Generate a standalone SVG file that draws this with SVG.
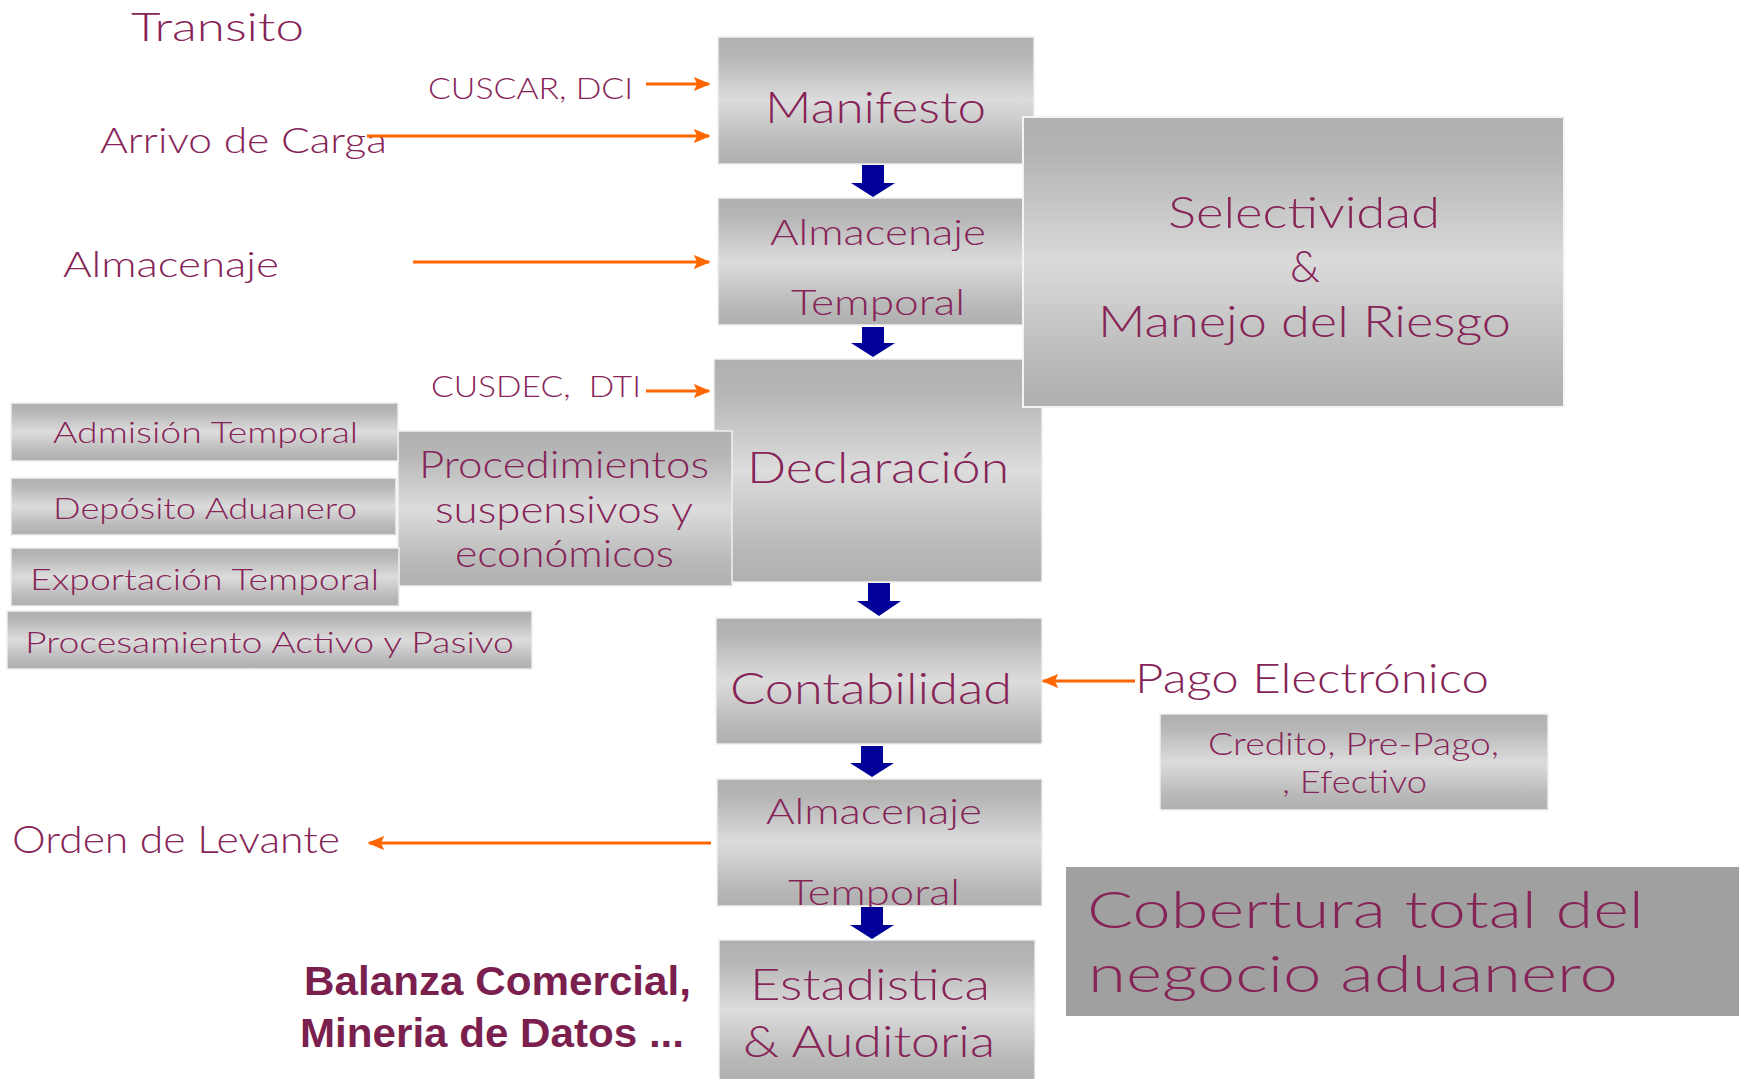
<svg xmlns="http://www.w3.org/2000/svg" width="1741" height="1079" viewBox="0 0 1741 1079">
<style>
.t{font-family:Lato,"Open Sans","Liberation Sans",sans-serif;font-weight:300;fill:#862457}
.b{font-family:"Liberation Sans",Arial,sans-serif;font-weight:bold;fill:#7a1f4e}
.box{fill:url(#g);stroke:#efefef;stroke-width:1.5}
.big{fill:url(#g2);stroke:#f4f4f4;stroke-width:2}
.or{stroke:#ff6600;stroke-width:3;fill:none;marker-end:url(#oh)}
.bl{fill:#000099}
</style>
<defs>
<linearGradient id="g" x1="0" y1="0" x2="0" y2="1">
<stop offset="0" stop-color="#b0b0b0"/>
<stop offset="0.15" stop-color="#b6b6b6"/>
<stop offset="0.5" stop-color="#dcdcdc"/>
<stop offset="0.85" stop-color="#b8b8b8"/>
<stop offset="1" stop-color="#b0b0b0"/>
</linearGradient>
<linearGradient id="g2" x1="0" y1="0" x2="0" y2="1">
<stop offset="0" stop-color="#b0b0b0"/>
<stop offset="0.12" stop-color="#b3b3b3"/>
<stop offset="0.5" stop-color="#dadada"/>
<stop offset="0.88" stop-color="#b6b6b6"/>
<stop offset="1" stop-color="#b0b0b0"/>
</linearGradient>
<marker id="oh" viewBox="0 0 10 10" refX="9" refY="5" markerWidth="17" markerHeight="14" markerUnits="userSpaceOnUse" orient="auto" preserveAspectRatio="none">
<path d="M0,0 L10,5 L0,10 L2,5 z" fill="#ff6600"/>
</marker>
</defs>
<rect width="1741" height="1079" fill="#ffffff"/>

<g id="labels">
<text class="t" x="131" y="41" font-size="40" textLength="173" lengthAdjust="spacingAndGlyphs">Transito</text>
<text class="t" x="428" y="99" font-size="30" textLength="205" lengthAdjust="spacingAndGlyphs">CUSCAR, DCI</text>
<text class="t" x="100" y="153" font-size="35" textLength="287" lengthAdjust="spacingAndGlyphs">Arrivo de Carga</text>
<text class="t" x="63" y="277" font-size="36" textLength="216" lengthAdjust="spacingAndGlyphs">Almacenaje</text>
<text class="t" x="431" y="397" font-size="30" textLength="210" lengthAdjust="spacingAndGlyphs" xml:space="preserve">CUSDEC,  DTI</text>
<text class="t" x="12" y="853" font-size="37" textLength="328" lengthAdjust="spacingAndGlyphs">Orden de Levante</text>
<text class="t" x="1135" y="693" font-size="41" textLength="354" lengthAdjust="spacingAndGlyphs">Pago Electrónico</text>
<text class="b" x="304" y="995" font-size="40" textLength="387" lengthAdjust="spacingAndGlyphs">Balanza Comercial,</text>
<text class="b" x="300" y="1047" font-size="40" textLength="384" lengthAdjust="spacingAndGlyphs">Mineria de Datos ...</text>
</g>

<g id="manifesto">
<rect class="box" x="718" y="37" width="316" height="127"/>
<text class="t" x="765" y="123" font-size="44" textLength="221" lengthAdjust="spacingAndGlyphs">Manifesto</text>
</g>
<g id="almacenaje1">
<rect class="box" x="718" y="198" width="305" height="127"/>
<text class="t" x="770" y="245" font-size="36" textLength="216" lengthAdjust="spacingAndGlyphs">Almacenaje</text>
<text class="t" x="791" y="315" font-size="36" textLength="174" lengthAdjust="spacingAndGlyphs">Temporal</text>
</g>
<g id="declaracion">
<rect class="box" x="714" y="359" width="328" height="223"/>
<text class="t" x="747" y="483" font-size="44" textLength="262" lengthAdjust="spacingAndGlyphs">Declaración</text>
</g>
<g id="selectividad">
<rect class="big" x="1023" y="117" width="541" height="290"/>
<text class="t" x="1168" y="228" font-size="44" textLength="272" lengthAdjust="spacingAndGlyphs">Selectividad</text>
<text class="t" x="1290" y="282" font-size="44" textLength="30" lengthAdjust="spacingAndGlyphs">&amp;</text>
<text class="t" x="1098" y="337" font-size="44" textLength="413" lengthAdjust="spacingAndGlyphs">Manejo del Riesgo</text>
</g>
<g id="procedimientos">
<rect class="box" x="398" y="431" width="334" height="155"/>
<text class="t" x="419" y="478" font-size="37" textLength="290" lengthAdjust="spacingAndGlyphs">Procedimientos</text>
<text class="t" x="435" y="523" font-size="37" textLength="258" lengthAdjust="spacingAndGlyphs">suspensivos y</text>
<text class="t" x="455" y="567" font-size="37" textLength="219" lengthAdjust="spacingAndGlyphs">económicos</text>
</g>
<g id="admision">
<rect class="box" x="11" y="403" width="387" height="58"/>
<text class="t" x="53" y="443" font-size="30" textLength="305" lengthAdjust="spacingAndGlyphs">Admisión Temporal</text>
</g>
<g id="deposito">
<rect class="box" x="11" y="478" width="385" height="57"/>
<text class="t" x="53" y="519" font-size="30" textLength="304" lengthAdjust="spacingAndGlyphs">Depósito Aduanero</text>
</g>
<g id="exportacion">
<rect class="box" x="11" y="548" width="388" height="58"/>
<text class="t" x="30" y="590" font-size="30" textLength="349" lengthAdjust="spacingAndGlyphs">Exportación Temporal</text>
</g>
<g id="procesamiento">
<rect class="box" x="7" y="611" width="525" height="58"/>
<text class="t" x="25" y="653" font-size="30" textLength="489" lengthAdjust="spacingAndGlyphs">Procesamiento Activo y Pasivo</text>
</g>
<g id="contabilidad">
<rect class="box" x="716" y="618" width="326" height="126"/>
<text class="t" x="730" y="704" font-size="44" textLength="282" lengthAdjust="spacingAndGlyphs">Contabilidad</text>
</g>
<g id="credito">
<rect class="box" x="1160" y="714" width="388" height="96"/>
<text class="t" x="1208" y="755" font-size="32" textLength="291" lengthAdjust="spacingAndGlyphs">Credito, Pre-Pago,</text>
<text class="t" x="1282" y="793" font-size="32" textLength="145" lengthAdjust="spacingAndGlyphs">, Efectivo</text>
</g>
<g id="almacenaje2">
<rect class="box" x="717" y="779" width="325" height="127"/>
<text class="t" x="766" y="824" font-size="36" textLength="216" lengthAdjust="spacingAndGlyphs">Almacenaje</text>
<text class="t" x="788" y="905" font-size="36" textLength="172" lengthAdjust="spacingAndGlyphs">Temporal</text>
</g>
<g id="estadistica">
<rect class="box" x="719" y="940" width="316" height="141"/>
<text class="t" x="750" y="1000" font-size="44" textLength="240" lengthAdjust="spacingAndGlyphs">Estadistica</text>
<text class="t" x="743" y="1057" font-size="44" textLength="252" lengthAdjust="spacingAndGlyphs">&amp; Auditoria</text>
</g>
<g id="cobertura">
<rect x="1066" y="867" width="673" height="149" fill="#a0a0a0"/>
<text class="t" x="1087" y="928" font-size="51" textLength="557" lengthAdjust="spacingAndGlyphs">Cobertura total del</text>
<text class="t" x="1088" y="992" font-size="51" textLength="530" lengthAdjust="spacingAndGlyphs">negocio aduanero</text>
</g>

<g id="connectors">
<line class="or" x1="646" y1="84" x2="709" y2="84"/>
<line class="or" x1="367" y1="136" x2="709" y2="136"/>
<line class="or" x1="413" y1="262" x2="709" y2="262"/>
<line class="or" x1="646" y1="391" x2="709" y2="391"/>
<line class="or" x1="1135" y1="681" x2="1043" y2="681"/>
<line class="or" x1="711" y1="843" x2="369" y2="843"/>
<polygon class="bl" points="862,165 884,165 884,183 895,183 873,197 851,183 862,183"/>
<polygon class="bl" points="862,327 884,327 884,343 895,343 873,357 851,343 862,343"/>
<polygon class="bl" points="868,583 890,583 890,601 901,601 879,616 857,601 868,601"/>
<polygon class="bl" points="861,746 883,746 883,763 894,763 872,777 850,763 861,763"/>
<polygon class="bl" points="861,907 883,907 883,925 894,925 872,939 850,925 861,925"/>
</g>
</svg>
